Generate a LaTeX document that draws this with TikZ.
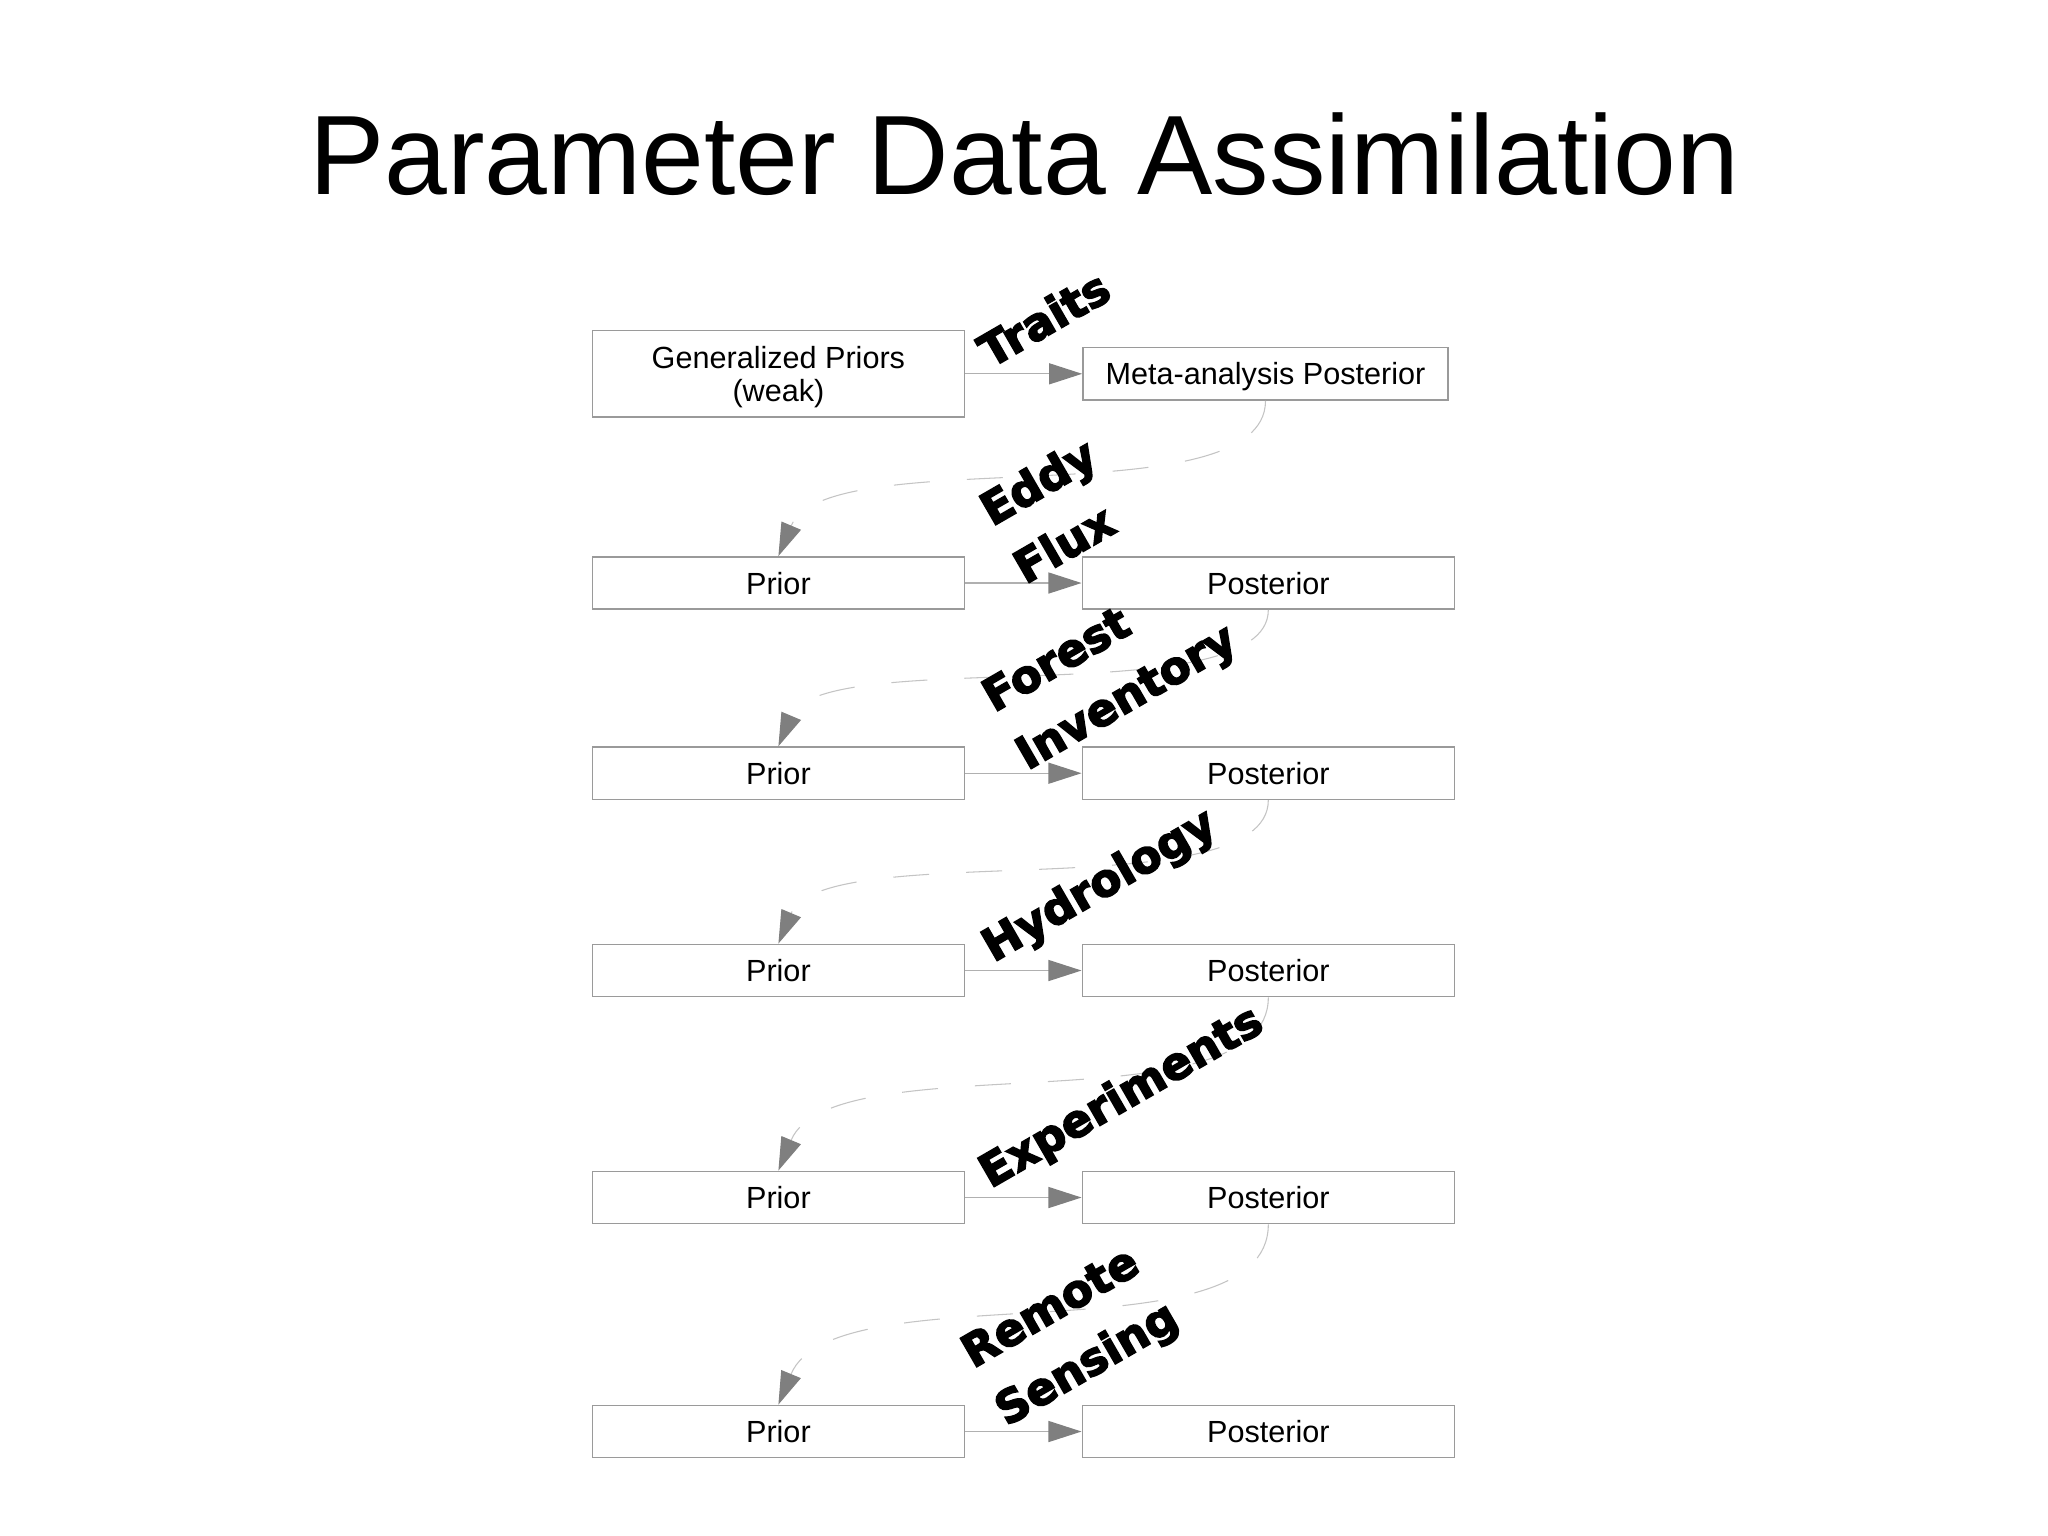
\documentclass[tikz,border=0pt]{standalone}
\usepackage{fontspec}
\setmainfont{Liberation Sans}
\newfontfamily\lblfont[FakeBold=3.5]{DejaVu Sans Bold}
\usetikzlibrary{arrows.meta}
\definecolor{boxgray}{HTML}{9A9A9A}
\definecolor{linegray}{HTML}{B0B0B0}
\definecolor{dashgray}{HTML}{C4C4C4}
\definecolor{tipgray}{HTML}{7F7F7F}
\begin{document}
\begin{tikzpicture}[x=0.01cm,y=-0.01cm,
  box/.style={draw=boxgray, line width=0.45pt, fill=white, minimum width=3.718cm,
    minimum height=0.523cm, inner sep=0pt, align=center, text depth=0pt,
    font=\fontsize{8.7}{9.4}\selectfont},
  flow/.style={draw=linegray, line width=0.35pt,
    -{Triangle[length=0.33cm,width=0.21cm,color=tipgray]}},
  feed/.style={draw=dashgray, line width=0.3pt, dash pattern=on 0.36cm off 0.37cm,
    -{Triangle[length=0.33cm,width=0.21cm,color=tipgray]}},
  lbl/.style={font=\lblfont\fontsize{12.8}{19}\selectfont, rotate=30,
    anchor=base west, inner sep=0pt, align=left},
]
\fill[white] (0,0) rectangle (2048,1535);
\useasboundingbox (0,0) rectangle (2048,1535);

\node[anchor=base, inner sep=0pt, font=\fontsize{32.1}{37}\selectfont] (title) at (1024.5,194.5) {Parameter Data Assimilation};

% boxes
\node[box, minimum height=0.865cm] (gen) at (778.4,373.7) {Generalized Priors\\(weak)};
\node[box, minimum width=3.65cm] (meta) at (1265.5,373.8) {Meta-analysis Posterior};
\node[box] (pr2) at (778.4,583) {Prior};
\node[box] (po2) at (1268.3,583) {Posterior};
\node[box] (pr3) at (778.4,773.2) {Prior};
\node[box] (po3) at (1268.3,773.2) {Posterior};
\node[box] (pr4) at (778.4,970.5) {Prior};
\node[box] (po4) at (1268.3,970.5) {Posterior};
\node[box] (pr5) at (778.4,1197.5) {Prior};
\node[box] (po5) at (1268.3,1197.5) {Posterior};
\node[box] (pr6) at (778.4,1431.5) {Prior};
\node[box] (po6) at (1268.3,1431.5) {Posterior};

% horizontal flows
\draw[flow] (gen.east |- meta.west) -- (meta.west);
\draw[flow] (pr2.east) -- (po2.west);
\draw[flow] (pr3.east) -- (po3.west);
\draw[flow] (pr4.east) -- (po4.west);
\draw[flow] (pr5.east) -- (po5.west);
\draw[flow] (pr6.east) -- (po6.west);

% feedback curves
\draw[feed] (meta.south) .. controls +(0,119) and +(49,-116) .. (pr2.north);
\draw[feed] (po2.south) .. controls +(0,105) and +(43,-102) .. (pr3.north);
\draw[feed] (po3.south) .. controls +(0,110) and +(45,-107) .. (pr4.north);
\draw[feed] (po4.south) .. controls +(0,133) and +(54,-129) .. (pr5.north);
\draw[feed] (po5.south) .. controls +(0,138) and +(56,-135) .. (pr6.north);

% labels (anchor = baseline of the last line)
\node[lbl] (l1) at (990,369) {Traits};
\node[lbl] (l2) at (1025,585) {Eddy\\Flux};
\node[lbl] (l3) at (1027,771) {Forest\\Inventory};
\node[lbl] (l4) at (993,963) {Hydrology};
\node[lbl] (l5) at (990,1189) {Experiments};
\node[lbl] (l6) at (1006,1427) {Remote\\Sensing};
\end{tikzpicture}
\end{document}
